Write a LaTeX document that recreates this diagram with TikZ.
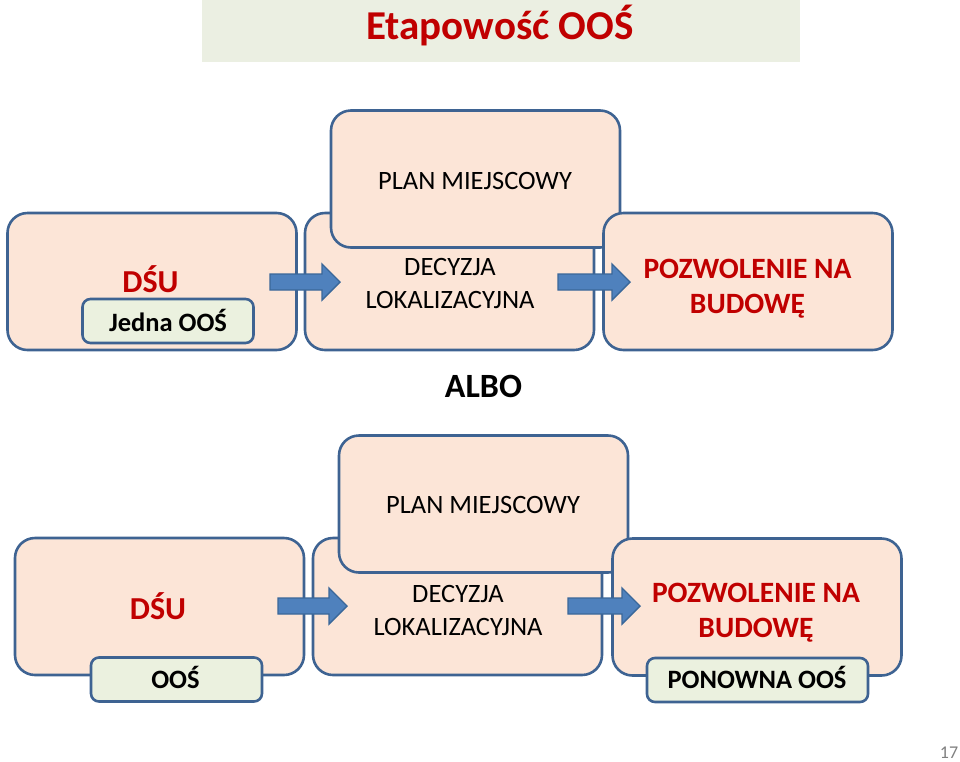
\documentclass[tikz,border=0pt]{standalone}
\usepackage{fontspec}
\setmainfont{Carlito}
\usetikzlibrary{calc}
\definecolor{peach}{HTML}{FCE5D7}
\definecolor{boxline}{HTML}{3E6392}
\definecolor{greenfill}{HTML}{EBF1DF}
\definecolor{titlefill}{HTML}{EBEFE2}
\definecolor{redtxt}{HTML}{C00000}
\definecolor{arrowfill}{HTML}{4F81BD}
\definecolor{arrowline}{HTML}{3A6799}
\newcommand\blockarrow[2]{\draw[barrow] (#1) ++(0,-8) -- ++(#2,0) -- ++(0,-10) -- ++(18,18) -- ++(-18,18) -- ++(0,-10) -- ++(-#2,0) -- cycle;}
\tikzset{
 bigbox/.style={draw=boxline, fill=peach, line width=2.6pt, rounded corners=20pt, minimum width=289pt, minimum height=137pt, inner sep=0pt, outer sep=0pt},
 tagbox/.style={draw=boxline, fill=greenfill, line width=2.6pt, rounded corners=8pt, minimum height=44pt, inner sep=0pt, outer sep=0pt},
 plaintxt/.style={inner sep=0pt, outer sep=0pt, align=center, font=\fontsize{26.5}{33}\selectfont},
 redtitle/.style={inner sep=0pt, outer sep=0pt, align=center, text=redtxt, font=\bfseries\fontsize{29.5}{35}\selectfont},
 dsutxt/.style={inner sep=0pt, outer sep=0pt, text=redtxt, font=\bfseries\fontsize{32}{38}\selectfont},
 tagtxt/.style={inner sep=0pt, outer sep=0pt, font=\bfseries\fontsize{26.5}{30}\selectfont},
 barrow/.style={draw=arrowline, fill=arrowfill, line width=1.4pt, line join=miter},
}
\begin{document}
\begin{tikzpicture}[x=1pt, y=-1pt]
\useasboundingbox (0,0) rectangle (960,761);
% title
\node[fill=titlefill, minimum width=598pt, minimum height=62pt, inner sep=0pt, outer sep=0pt] (titlebar) at (501,31) {};
\node[anchor=base, inner sep=0pt, text=redtxt, font=\bfseries\fontsize{41}{48}\selectfont] (title) at (500,39) {Etapowość OOŚ};

% top row
\node[bigbox] (dsu1) at (152,281.5) {};
\node[bigbox] (dec1) at (449.5,281.5) {};
\node[bigbox] (plan1) at (475.5,179) {};
\node[bigbox] (poz1) at (748,281.5) {};
\node[dsutxt, anchor=base] (dsu1t) at (150.5,292) {DŚU};
\node[tagbox, minimum width=171pt] (tag1) at (168,321) {};
\node[tagtxt, anchor=base] (tag1t) at (168,331) {Jedna OOŚ};
\node[plaintxt, anchor=base] (plan1t) at (475,189) {PLAN MIEJSCOWY};
\node[plaintxt, anchor=north] (dec1t) at (450,258) {DECYZJA\\LOKALIZACYJNA};
\node[redtitle, anchor=north] (poz1t) at (747.5,259.5) {POZWOLENIE NA\\BUDOWĘ};
\coordinate (a1) at (270,282);
\coordinate (a2) at (558,282);
\blockarrow{a1}{52}
\blockarrow{a2}{54}

% middle
\node[inner sep=0pt, anchor=base, font=\bfseries\fontsize{34}{40}\selectfont] (albo) at (483.5,397) {ALBO};

% bottom row
\node[bigbox] (dsu2) at (159.5,606.5) {};
\node[bigbox] (dec2) at (457.5,606.5) {};
\node[bigbox] (plan2) at (483.5,504) {};
\node[bigbox] (poz2) at (757,607) {};
\node[dsutxt, anchor=base] (dsu2t) at (158,619) {DŚU};
\node[plaintxt, anchor=base] (plan2t) at (483,513) {PLAN MIEJSCOWY};
\node[plaintxt, anchor=north] (dec2t) at (458,585) {DECYZJA\\LOKALIZACYJNA};
\node[redtitle, anchor=north] (poz2t) at (756,583) {POZWOLENIE NA\\BUDOWĘ};
\node[tagbox, minimum width=171pt] (tag2) at (176.5,679.5) {};
\node[tagtxt, anchor=base] (tag2t) at (175.5,688) {OOŚ};
\node[tagbox, minimum width=221pt] (tag3) at (757.5,680) {};
\node[tagtxt, anchor=base] (tag3t) at (757,688) {PONOWNA OOŚ};
\coordinate (a3) at (278,606);
\coordinate (a4) at (568,606);
\blockarrow{a3}{51}
\blockarrow{a4}{54}

% page number
\node[inner sep=0pt, anchor=base, text=gray, font=\fontsize{18}{22}\selectfont] (pagenum) at (949,758) {17};
\end{tikzpicture}
\end{document}
